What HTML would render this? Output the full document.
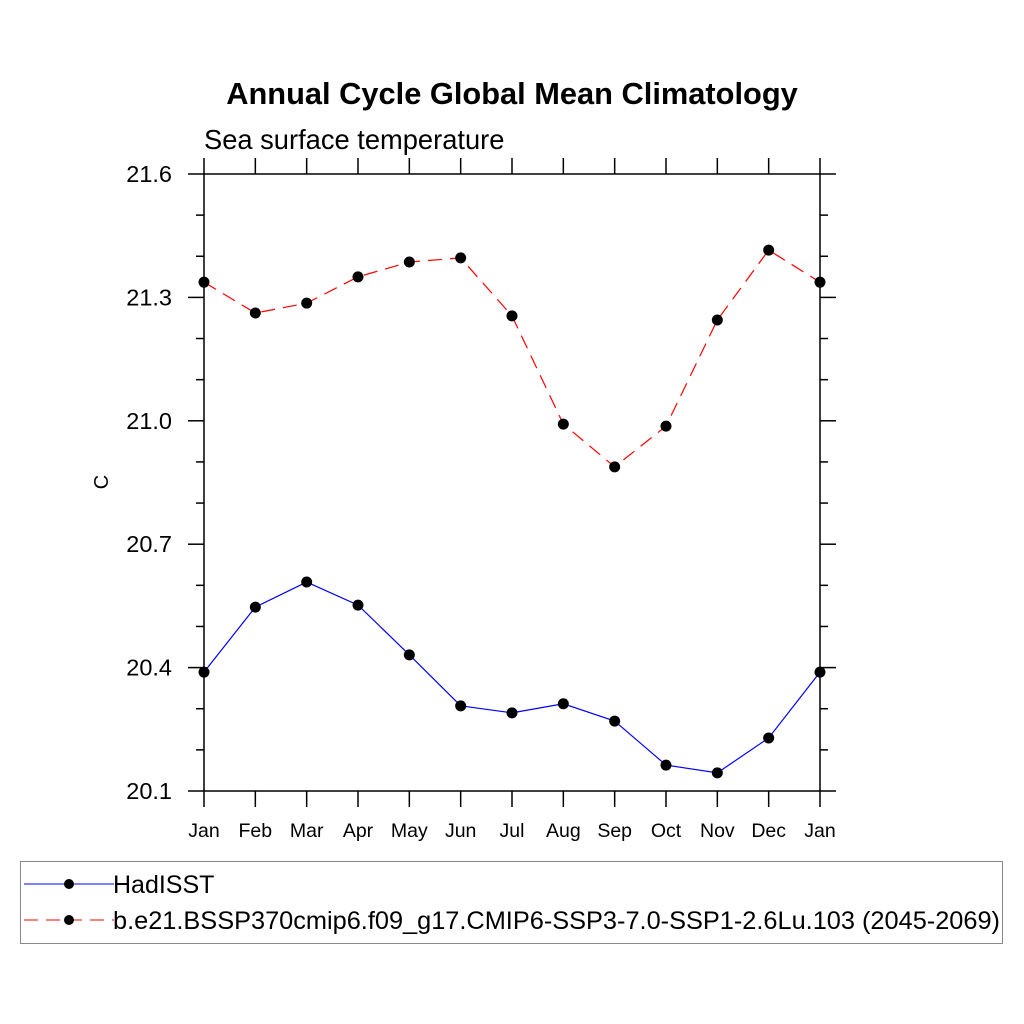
<!DOCTYPE html>
<html><head><meta charset="utf-8"><style>body{margin:0;background:#fff}svg{display:block;font-family:"Liberation Sans",Arial,sans-serif}</style></head>
<body>
<svg id="chart" width="1024" height="1024">
<text x="512" y="104" text-anchor="middle" font-size="30.8" font-weight="bold">Annual Cycle Global Mean Climatology</text>
<text x="204" y="149" font-size="27.3">Sea surface temperature</text>
<text x="108" y="482" font-size="20" text-anchor="middle" transform="rotate(-90 108 482)">C</text>
<g id="axes"></g><g id="series"></g>
<rect x="20.5" y="861.5" width="982" height="82" fill="none" stroke="#888"/>
<line x1="24" y1="884" x2="114" y2="884" stroke="#00f"/>
<circle cx="69" cy="884" r="5"/>
<text x="113" y="893" font-size="25">HadISST</text>
<line x1="24" y1="920" x2="114" y2="920" stroke="#f00" stroke-dasharray="14,8"/>
<circle cx="69" cy="920" r="5"/>
<text x="113" y="929" font-size="25" textLength="887" lengthAdjust="spacingAndGlyphs">b.e21.BSSP370cmip6.f09_g17.CMIP6-SSP3-7.0-SSP1-2.6Lu.103 (2045-2069)</text>
</svg>
<script>
const months=["Jan","Feb","Mar","Apr","May","Jun","Jul","Aug","Sep","Oct","Nov","Dec","Jan"];
const hadisst=[20.389,20.547,20.608,20.552,20.431,20.307,20.290,20.312,20.270,20.163,20.144,20.229,20.389];
const model=[21.337,21.262,21.286,21.350,21.386,21.396,21.255,20.992,20.888,20.987,21.245,21.415,21.337];
const yTicks=[20.1,20.4,20.7,21.0,21.3,21.6];
const yLabels=["20.1","20.4","20.7","21.0","21.3","21.6"];
const NS="http://www.w3.org/2000/svg";
const L=204,R=820,T=174,B=791,ymin=20.1,ymax=21.6;
const xs=i=>L+(R-L)*i/(months.length-1);
const ys=v=>B-(v-ymin)/(ymax-ymin)*(B-T);
function mk(tag,at,parent){const e=document.createElementNS(NS,tag);for(const k in at)e.setAttribute(k,at[k]);parent.appendChild(e);return e;}
const ax=document.getElementById('axes'),se=document.getElementById('series');
const frame=mk('rect',{x:L,y:T,width:R-L,height:B-T,fill:'none',stroke:'#000','stroke-width':1.5},ax);


months.forEach((m,i)=>{const x=xs(i);
 const t1=mk('line',{x1:x,x2:x,y1:B,y2:B+16,stroke:'#000','stroke-width':1.5},ax);
 
 
 const t2=mk('line',{x1:x,x2:x,y1:T,y2:T-16,stroke:'#000','stroke-width':1.5},ax);
 
 
 const tx=mk('text',{x:x,y:837,'text-anchor':'middle','font-size':19.5},ax);tx.textContent=m;
 
 
});
for(let v=ymin;v<=ymax+1e-6;v+=0.1){const y=ys(v);const major=yTicks.some(t=>Math.abs(t-v)<1e-6);const len=major?16:8;
 const a=mk('line',{x1:L-len,x2:L,y1:y,y2:y,stroke:'#000','stroke-width':1.5},ax);
 
 
 const b=mk('line',{x1:R,x2:R+len,y1:y,y2:y,stroke:'#000','stroke-width':1.5},ax);
 
 
}
yTicks.forEach((v,i)=>{const tx=mk('text',{x:172,y:ys(v)+8,'text-anchor':'end','font-size':23.5},ax);tx.textContent=yLabels[i];
 
 });
function draw(vals,color,dash,name){
 const p=mk('polyline',{points:vals.map((v,i)=>xs(i)+','+ys(v)).join(' '),fill:'none',stroke:color,'stroke-width':1.2,'stroke-dasharray':dash},se);
 
 
 vals.forEach((v,i)=>{const c=mk('circle',{cx:xs(i),cy:ys(v),r:5.5,fill:'#000'},se);
  
  });
}
draw(hadisst,'#00f','none','hadisst');
draw(model,'#f00','14,8','model');
</script>
</body></html>
